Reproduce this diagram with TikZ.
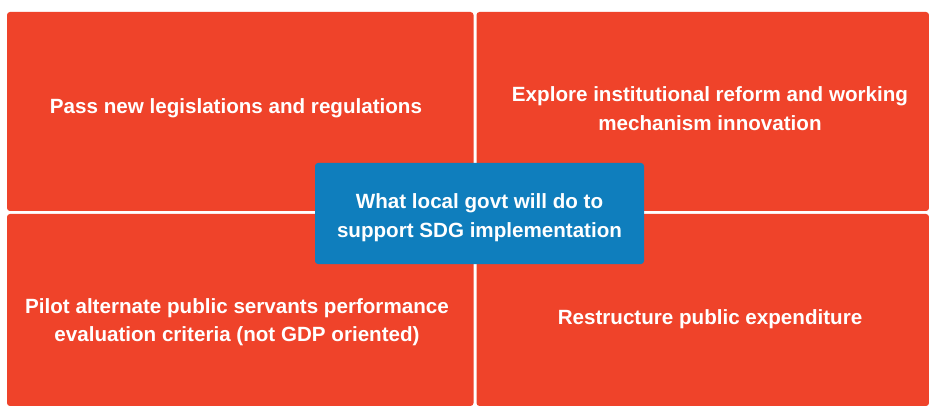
\documentclass[tikz,border=0pt]{standalone}
\usepackage{fontspec}
\setmainfont{Liberation Sans}
\definecolor{cellred}{HTML}{EF432A}
\definecolor{hubblue}{HTML}{0F7EBD}
\begin{document}
\begin{tikzpicture}[x=1pt,y=-1pt,
  cell/.style={fill=cellred,draw=none,rounded corners=3pt},
  lbl/.style={text=white,align=center,font=\fontsize{20.6}{28.5}\selectfont\bfseries,inner sep=0pt},
  hub/.style={fill=hubblue,draw=none,rounded corners=3pt,minimum width=329pt,minimum height=101pt,inner sep=0pt}]
\useasboundingbox (0,0) rectangle (929,406);
\fill[white] (0,0) rectangle (929,406);
\path[cell] (7,12) rectangle (473.5,211);
\path[cell] (476.5,12) rectangle (929,211);
\path[cell] (7,214) rectangle (473.5,406);
\path[cell] (476.5,214) rectangle (929,406);
\node[lbl] (tl) at (236,108) {Pass new legislations and regulations};
\node[lbl] (tr) at (710,108.5) {Explore institutional reform and working\\mechanism innovation};
\node[lbl] (bl) at (237,322) {Pilot alternate public servants performance\\evaluation criteria (not GDP oriented)};
\node[lbl] (br) at (710,319) {Restructure public expenditure};
\node[hub] (c) at (479.5,213.5) {};
\node[lbl] at ([yshift=-4pt]c.center) {What local govt will do to\\support SDG implementation};
\end{tikzpicture}
\end{document}
